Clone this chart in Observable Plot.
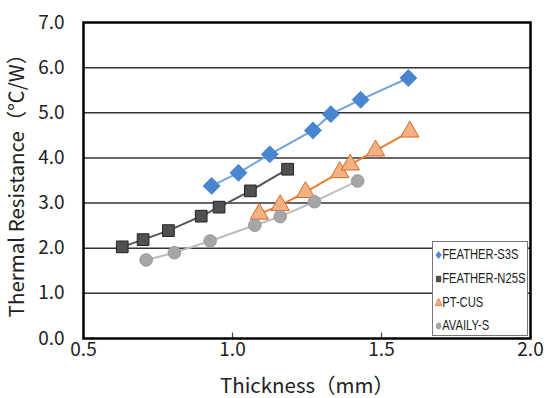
<!DOCTYPE html>
<html>
<head>
<meta charset="utf-8">
<script src="https://cdn.jsdelivr.net/npm/d3@7"></script>
<script src="https://cdn.jsdelivr.net/npm/@observablehq/plot@0.6"></script>
<style>
  html, body { margin: 0; padding: 0; background: #fff; }
  #wrap { position: relative; width: 547px; height: 398px; }
  #legend {
    position: absolute; left: 432px; top: 241px; width: 96px; height: 95px;
    background: #fff; border: 1px solid #777; box-sizing: border-box;
    font-family: "Liberation Sans", "Noto Sans", sans-serif;
    font-size: 14px; color: #222;
  }
  #legend .item { position: absolute; left: 2px; height: 16px; line-height: 16px; white-space: nowrap;
    transform: scaleX(0.8); transform-origin: left center; }
  #legend svg { vertical-align: middle; }
</style>
</head>
<body>
<div id="wrap"></div>
<script>
const seriesNames = ["FEATHER-S3S", "FEATHER-N25S", "PT-CUS", "AVAILY-S"];

const s3sX = [0.93, 1.02, 1.125, 1.27, 1.33, 1.43, 1.59];
const s3sY = [3.38, 3.67, 4.08, 4.61, 4.97, 5.29, 5.77];

const n25sX = [0.63, 0.70, 0.785, 0.895, 0.955, 1.06, 1.185];
const n25sY = [2.03, 2.19, 2.39, 2.71, 2.91, 3.27, 3.75];

const ptX = [1.09, 1.16, 1.245, 1.36, 1.395, 1.48, 1.595];
const ptY = [2.76, 2.95, 3.24, 3.68, 3.85, 4.16, 4.58];

const avX = [0.71, 0.805, 0.925, 1.075, 1.16, 1.275, 1.42];
const avY = [1.74, 1.90, 2.16, 2.51, 2.70, 3.03, 3.49];

const xTicks = [0.5, 1.0, 1.5, 2.0];
const yTicks = [0, 1, 2, 3, 4, 5, 6, 7];
const gridY = [1, 2, 3, 4, 5, 6];
const innerTicksX = [1.0, 1.5];

const styles = [
  {symbol: "diamond2", r: 7.6, fill: "#4a86d0", stroke: "#4a86d0", line: "#6fa3dd"},
  {symbol: "square", r: 6.6, fill: "#505050", stroke: "#222", line: "#555"},
  {symbol: "triangle", r: 6.8, fill: "#f5b183", stroke: "#d26a24", line: "#ed7d31"},
  {symbol: "circle", r: 6.3, fill: "#a6a6a6", stroke: "#999", line: "#bdbdbd"}
];

const xs = [s3sX, n25sX, ptX, avX];
const ys = [s3sY, n25sY, ptY, avY];
const series = seriesNames.map((name, i) => ({
  name, style: styles[i],
  data: xs[i].map((x, j) => ({x, y: ys[i][j]}))
}));

const marks = [
  Plot.ruleY(gridY, {stroke: "#333", strokeWidth: 1.5}),
  Plot.ruleX(innerTicksX, {y1: 0, y2: 0.12, stroke: "#444", strokeWidth: 1.2})
];
for (const s of series) {
  marks.push(Plot.line(s.data, {x: "x", y: "y", stroke: s.style.line, strokeWidth: 2}));
}
for (const s of series) {
  marks.push(Plot.dot(s.data, {x: "x", y: "y", symbol: () => s.style.symbol, r: s.style.r,
    fill: s.style.fill, stroke: s.style.stroke, strokeWidth: 1}));
}
marks.push(Plot.frame({stroke: "#000", strokeWidth: 2.5}));

const chart = Plot.plot({
  width: 547,
  height: 398,
  marginLeft: 83,
  marginRight: 17,
  marginTop: 22,
  marginBottom: 60,
  style: {fontFamily: "'Noto Sans CJK JP', 'Noto Sans', sans-serif", fontSize: "19px", color: "#222", background: "#fff"},
  x: {domain: [0.5, 2.0], ticks: xTicks, tickFormat: d3.format(".1f"), tickSize: 0, tickPadding: 4,
      label: "Thickness（mm）", labelAnchor: "center", labelArrow: "none", labelOffset: 54},
  y: {domain: [0, 7], ticks: yTicks, tickFormat: d3.format(".1f"), tickSize: 0, tickPadding: 19,
      label: "Thermal Resistance（℃/W）", labelAnchor: "center", labelArrow: "none", labelOffset: 74},
  symbol: {type: "identity"},
  marks
});
chart.querySelectorAll("[aria-label='x-axis label'] text, [aria-label='y-axis label'] text").forEach(t => t.style.fontSize = "20.5px");
document.getElementById("wrap").appendChild(chart);

// legend
const legend = document.createElement("div");
legend.id = "legend";
const tops = [4, 28, 52, 75];
series.forEach((s, i) => {
  const item = document.createElement("div");
  item.className = "item";
  item.style.top = tops[i] + "px";
  const sym = d3.create("svg").attr("width", 9).attr("height", 10);
  const typ = {diamond2: d3.symbolDiamond2, square: d3.symbolSquare, triangle: d3.symbolTriangle, circle: d3.symbolCircle}[s.style.symbol];
  sym.append("path").attr("d", d3.symbol(typ, 30)()).attr("transform", "translate(4.5,5)")
    .attr("fill", s.style.fill).attr("stroke", s.style.stroke).attr("stroke-width", 0.8);
  item.appendChild(sym.node());
  item.appendChild(document.createTextNode(s.name));
  legend.appendChild(item);
});
document.getElementById("wrap").appendChild(legend);
</script>
</body>
</html>
